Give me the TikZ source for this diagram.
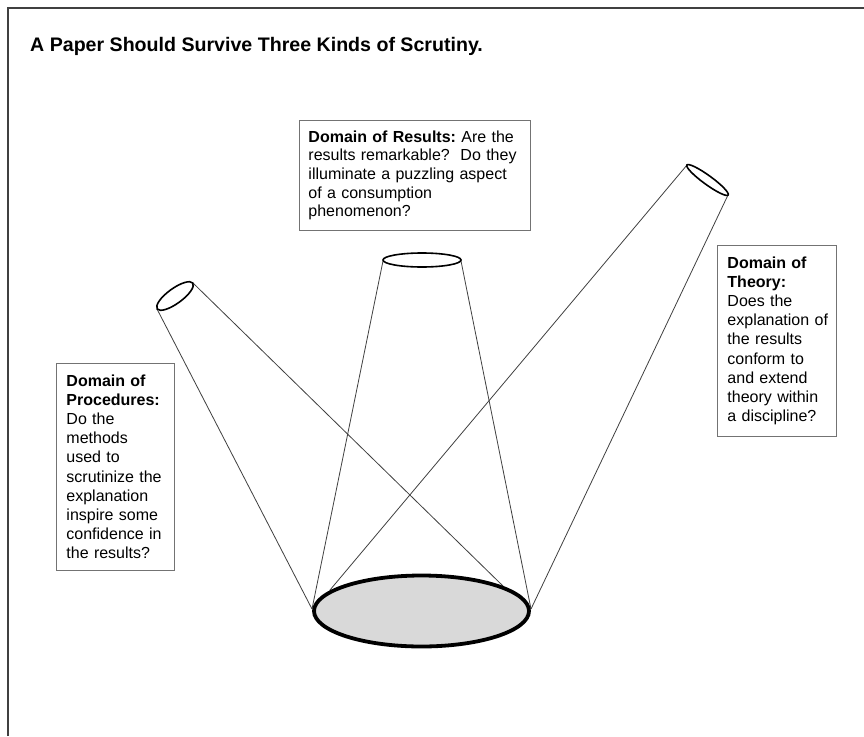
\documentclass[tikz,border=0pt]{standalone}
\usepackage{fontspec}
\setmainfont{Liberation Sans}
\begin{document}
\begin{tikzpicture}[x=1pt,y=-1pt,
  frame/.style={draw=black!75,line width=1.6pt},
  conel/.style={draw=black!75,line width=0.8pt},
  rim/.style={draw=black,line width=1.6pt},
  base/.style={draw=black,line width=3.8pt,fill=black!15},
  infobox/.style={draw=black!55,line width=0.9pt,anchor=north west,align=left,
    inner xsep=10pt,inner ysep=10pt,font=\fontsize{16}{19.2}\selectfont\frenchspacing},
  title/.style={anchor=west,font=\fontsize{19.6}{22}\selectfont\bfseries,inner sep=0pt}]
\useasboundingbox (0,0) rectangle (864,736);
\fill[white] (0,0) rectangle (864,736);
% frame
\coordinate (f1) at (8,736);
\coordinate (f2) at (8,8);
\coordinate (f3) at (864,8);
\draw[frame] (f1) -- (f2) -- (f3);
% title
\node[title] (t) at (30,46) {A Paper Should Survive Three Kinds of Scrutiny.};
% boxes
\node[infobox,inner xsep=9pt,text width=213pt,font=\fontsize{16}{18.7}\selectfont\frenchspacing] (res) at (299,120) {\textbf{Domain of Results:} Are the\\ results remarkable?~ Do they\\ illuminate a puzzling aspect\\ of a consumption\\ phenomenon?};
\node[infobox,text width=98pt,inner ysep=11pt] (proc) at (56,363) {\textbf{Domain of}\\ \textbf{Procedures:}\\ Do the\\ methods\\ used to\\ \mbox{scrutinize the}\\ explanation\\ inspire some\\ \mbox{confidence in}\\ the results?};
\node[infobox,text width=99pt,inner ysep=11pt] (theo) at (717,245) {\textbf{Domain of}\\ \textbf{Theory:}\\ Does the\\ \mbox{explanation of}\\ the results\\ conform to\\ and extend\\ \mbox{theory within}\\ \mbox{a discipline?}};
% cone coordinates
\coordinate (bc) at (421.5,611);
\coordinate (bl) at (312,609);
\coordinate (br) at (531,609);
\coordinate (btl) at (330,590);
\coordinate (btr) at (503,586);
\coordinate (pc) at (175,296);
\coordinate (pa) at (157,309);
\coordinate (pb) at (193,283);
\coordinate (cc) at (422,260);
\coordinate (ca) at (383,261);
\coordinate (cb) at (461,261);
\coordinate (tc) at (707.5,180);
\coordinate (ta) at (687,165);
\coordinate (tb) at (728,195);
% cone lines
\draw[conel] (pa) -- (bl);
\draw[conel] (pb) -- (btr);
\draw[conel] (ca) -- (bl);
\draw[conel] (cb) -- (br);
\draw[conel] (ta) -- (btl);
\draw[conel] (tb) -- (br);
% top rims
\draw[rim,rotate around={36:(pc)}] (pc) ellipse [x radius=22pt,y radius=7.5pt];
\draw[rim] (cc) ellipse [x radius=39pt,y radius=7pt];
\draw[rim,rotate around={-36:(tc)}] (tc) ellipse [x radius=25.5pt,y radius=4.5pt];
% base
\draw[base] (bc) ellipse [x radius=107.5pt,y radius=35.5pt];
\end{tikzpicture}
\end{document}
